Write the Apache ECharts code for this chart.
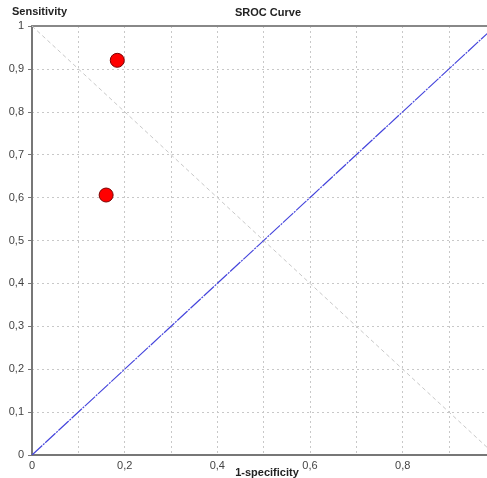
<!DOCTYPE html>
<html><head><meta charset="utf-8">
<script src="https://cdn.jsdelivr.net/npm/echarts@6/dist/echarts.min.js"></script>
<style>html,body{margin:0;padding:0;background:#fff}#c{width:487px;height:478px}</style>
</head><body><div id="c"></div>
<script>
var studyPoints = [[0.184, 0.920], [0.160, 0.606]];
var chanceLine = [[0, 0], [1, 1]];
var antiDiagonal = [[0, 1], [1, 0]];
var title = 'SROC Curve';
var xName = '1-specificity';
var yName = 'Sensitivity';

var chart = echarts.init(document.getElementById('c'));
var fmt = function (v) {
  var r = Math.round(v * 10);
  if (Math.abs(v * 10 - r) > 1e-6) return '';
  if (r === 0) return '0';
  if (r === 10) return '1';
  return '0,' + r;
};
var font = 'Liberation Sans, Arial, sans-serif';
var XMAX = 0.982;
chart.setOption({
  animation: false,
  textStyle: { fontFamily: font },
  grid: { left: 32, top: 26, right: 0, bottom: 23, containLabel: false },
  graphic: [
    { type: 'text', left: 12, top: 6, style: { text: yName, font: 'bold 11px ' + font, fill: '#222' } },
    { type: 'text', x: 268, y: 7, style: { text: title, font: 'bold 11px ' + font, fill: '#222', textAlign: 'center' } },
    { type: 'text', x: 267, y: 467, style: { text: xName, font: 'bold 11px ' + font, fill: '#222', textAlign: 'center' } }
  ],
  xAxis: [{
    type: 'value', min: 0, max: XMAX, interval: 0.1,
    axisLine: { lineStyle: { color: '#777', width: 2 } },
    axisTick: { show: false },
    axisLabel: {
      color: '#444', fontSize: 11, margin: 5, showMaxLabel: false,
      formatter: function (v) { var r = Math.round(v * 10); return (r % 2 === 0) ? fmt(v) : ''; }
    },
    splitLine: { show: true, lineStyle: { color: '#c8c8c8', type: [2, 3], width: 1 } }
  }, {
    type: 'value', position: 'top', min: 0, max: XMAX,
    axisLine: { show: true, onZero: false, lineStyle: { color: '#888', width: 2 } },
    axisTick: { show: false }, axisLabel: { show: false }, splitLine: { show: false }
  }],
  yAxis: {
    type: 'value', min: 0, max: 1, interval: 0.1,
    axisLine: { show: true, lineStyle: { color: '#777', width: 2 } },
    axisTick: { show: true, length: 4, lineStyle: { color: '#777' } },
    axisLabel: { color: '#444', fontSize: 11, margin: 8, formatter: fmt },
    splitLine: { show: true, lineStyle: { color: '#c8c8c8', type: [2, 3], width: 1 } }
  },
  series: [{
    type: 'line', data: antiDiagonal, symbol: 'none', clip: true,
    lineStyle: { color: '#c8c8c8', width: 1, type: [4, 3] }
  }, {
    type: 'line', data: chanceLine, symbol: 'none', clip: true,
    lineStyle: { color: '#4646dc', width: 1.2, type: [14, 1, 2, 1] }
  }, {
    type: 'scatter', data: studyPoints, symbol: 'circle', symbolSize: 14,
    itemStyle: { color: '#ff0000', opacity: 1, borderColor: '#7a0000', borderWidth: 1 }
  }]
});
</script></body></html>
